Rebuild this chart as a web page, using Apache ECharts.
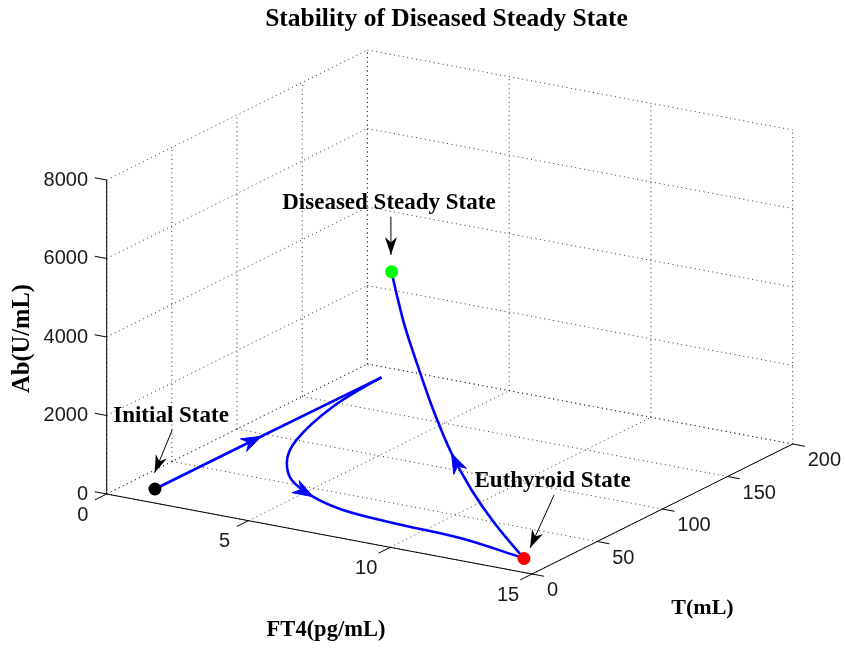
<!DOCTYPE html>
<html>
<head>
<meta charset="utf-8">
<title>Stability of Diseased Steady State</title>
<script src="https://cdn.jsdelivr.net/npm/echarts@6/dist/echarts.min.js"></script>
<style>
  html, body { margin: 0; padding: 0; background: #fff; }
  #chart { width: 845px; height: 656px; }
</style>
</head>
<body>
<div id="chart"></div>
<script>
// axis ticks
const ft4Ticks = [0, 5, 10, 15];
const tTicks = [0, 50, 100, 150, 200];
const abTicks = [0, 2000, 4000, 6000, 8000];

// trajectory (FT4, T, Ab)
const trajFT4 = [0.98, 1.0, 1.05, 1.31, 2.09, 3.02, 4.02, 5.42, 6.87, 8.82, 11.31, 13.82, 14.0, 12.82, 11.87, 11.02, 10.24, 9.56, 8.96, 8.49, 8.21];
const trajT   = [15.7, 97, 188, 145, 100, 72.5, 54.5, 40.3, 31.8, 27.8, 25.1, 16.5, 15.6, 18.7, 21.7, 24.8, 27.8, 30.9, 33.9, 37.0, 40];
const trajAb  = [0, 0, 0, 0, 0, 0, 0, 0, 0, 0, 0, 0, 0, 686, 1355, 2124, 3071, 4031, 4919, 5738, 6117];
// points of the trajectory that carry a direction arrow
const arrowIdx = [1, 7, 15];

// marked states
const stateNames = ['Initial State', 'Euthyroid State', 'Diseased Steady State'];
const stateFT4 = [0.98, 14.0, 8.21];
const stateT   = [15.7, 15.6, 40];
const stateAb  = [0, 0, 6117];

// ---- 3d box -> screen (orthographic view) ----
const ft4Max = 15, tMax = 200, abMax = 8000;
const O = [106.7, 494];       // FT4=0,T=0,Ab=0
const ft4Vec = [425.3, 80];   // along FT4 0..15
const tVec = [260.7, -130];   // along T 0..200
const abVec = -314;           // along Ab 0..8000
function proj(f, t, a) {
  return [
    O[0] + f / ft4Max * ft4Vec[0] + t / tMax * tVec[0],
    O[1] + f / ft4Max * ft4Vec[1] + t / tMax * tVec[1] + a / abMax * abVec
  ];
}
function seg(p, q) { return [p[0], p[1], q[0], q[1]]; }

// dotted grid on the three back planes
const gridSegs = [];
ft4Ticks.forEach(f => {
  gridSegs.push(seg(proj(f, 0, 0), proj(f, tMax, 0)));
  gridSegs.push(seg(proj(f, tMax, 0), proj(f, tMax, abMax)));
});
tTicks.forEach(t => {
  gridSegs.push(seg(proj(0, t, 0), proj(ft4Max, t, 0)));
  gridSegs.push(seg(proj(0, t, 0), proj(0, t, abMax)));
});
abTicks.forEach(a => {
  gridSegs.push(seg(proj(0, 0, a), proj(0, tMax, a)));
  gridSegs.push(seg(proj(0, tMax, a), proj(ft4Max, tMax, a)));
});

// solid axes + ticks
const axisSegs = [
  seg(proj(0, 0, 0), proj(0, 0, abMax)),
  seg(proj(0, 0, 0), proj(ft4Max, 0, 0)),
  seg(proj(ft4Max, 0, 0), proj(ft4Max, tMax, 0))
];
abTicks.forEach(a => axisSegs.push(seg(proj(0, 0, a), proj(-0.42, 0, a))));
ft4Ticks.forEach(f => axisSegs.push(seg(proj(f, 0, 0), proj(f, -9, 0))));
tTicks.forEach(t => axisSegs.push(seg(proj(ft4Max, t, 0), proj(ft4Max + 0.43, t, 0))));

// tick labels: [x, y, align(0 right,1 center,2 left)]
const tickItems = [], tickTexts = [];
abTicks.forEach(a => { const p = proj(0, 0, a); tickItems.push([p[0] - 18.7, p[1], 0]); tickTexts.push(String(a)); });
ft4Ticks.forEach(f => { const p = proj(f, 0, 0); tickItems.push([p[0] - 24, p[1] + 21, 1]); tickTexts.push(String(f)); });
tTicks.forEach(t => { const p = proj(ft4Max, t, 0); tickItems.push([p[0] + 15, p[1] + 16.5, 2]); tickTexts.push(String(t)); });

const traj = trajFT4.map((f, i) => proj(f, trajT[i], trajAb[i]));
const leg1 = traj.slice(0, 3);
const leg2 = traj.slice(2, 13);
const leg3 = traj.slice(12);

const arrowData = arrowIdx.map(i => traj[i].concat(traj[i - 1], traj[i + 1]));

const dotColors = ['#000000', '#ff0000', '#00ff00'];
const statePts = stateNames.map((n, i) => proj(stateFT4[i], stateT[i], stateAb[i]));
// annotation layout relative to each dot: text centre, arrow tail, arrow tip
const annoLayout = [
  { text: [16.1, -73.2], tail: [17.3, -59.2], tip: [-0.4, -16.2] },
  { text: [28.6, -77.6], tail: [30.1, -63.6], tip: [6.1, -10.6] },
  { text: [-2.7, -68.7], tail: [-0.7, -55], tip: [-0.7, -16.7] }
];

function headPoints(tip, ang, len, wid) {
  const c = Math.cos(ang), s = Math.sin(ang);
  const local = [[0, 0], [-len, -wid / 2], [-len * 0.7, 0], [-len, wid / 2]];
  return local.map(p => [tip[0] + p[0] * c - p[1] * s, tip[1] + p[0] * s + p[1] * c]);
}

function segRender(color, dash) {
  return function (params, api) {
    const p1 = api.coord([api.value(0), api.value(1)]);
    const p2 = api.coord([api.value(2), api.value(3)]);
    return {
      type: 'line',
      shape: { x1: p1[0], y1: p1[1], x2: p2[0], y2: p2[1] },
      style: { stroke: color, lineWidth: 1, lineDash: dash }
    };
  };
}

const serif = '"Liberation Serif", "Times New Roman", serif';
const sans = '"Liberation Sans", Arial, sans-serif';

const chart = echarts.init(document.getElementById('chart'), null, { renderer: 'canvas' });
chart.setOption({
  animation: false,
  backgroundColor: '#ffffff',
  grid: { left: 0, right: 0, top: 0, bottom: 0 },
  xAxis: { type: 'value', min: 0, max: 845, show: false },
  yAxis: { type: 'value', min: 0, max: 656, inverse: true, show: false },
  graphic: [
    { type: 'text', x: 446.5, y: 19, silent: true,
      style: { text: 'Stability of Diseased Steady State', font: 'bold 25.5px ' + serif, fill: '#000', align: 'center', verticalAlign: 'middle' } },
    { type: 'text', x: 326, y: 630, silent: true,
      style: { text: 'FT4(pg/mL)', font: 'bold 22.5px ' + serif, fill: '#000', align: 'center', verticalAlign: 'middle' } },
    { type: 'text', x: 702.5, y: 608, silent: true,
      style: { text: 'T(mL)', font: 'bold 22px ' + serif, fill: '#000', align: 'center', verticalAlign: 'middle' } },
    { type: 'text', x: 23, y: 338.5, rotation: Math.PI / 2, silent: true,
      style: { text: 'Ab(U/mL)', font: 'bold 24.5px ' + serif, fill: '#000', align: 'center', verticalAlign: 'middle' } }
  ],
  series: [
    {
      type: 'custom', name: 'grid', silent: true, clip: false,
      data: gridSegs, renderItem: segRender('#333', [1, 3.5]), z: 1
    },
    {
      type: 'custom', name: 'axes', silent: true, clip: false,
      data: axisSegs, renderItem: segRender('#000', null), z: 2
    },
    {
      type: 'custom', name: 'tickLabels', silent: true, clip: false, z: 2,
      data: tickItems,
      renderItem: function (params, api) {
        const p = api.coord([api.value(0), api.value(1)]);
        return {
          type: 'text', x: p[0], y: p[1],
          style: {
            text: tickTexts[params.dataIndex], font: '20px ' + sans, fill: '#1a1a1a',
            align: ['right', 'center', 'left'][api.value(2)], verticalAlign: 'middle'
          }
        };
      }
    },
    {
      type: 'line', name: 'leg1', data: leg1, showSymbol: false, z: 3,
      lineStyle: { color: '#0000ff', width: 2.6 }
    },
    {
      type: 'line', name: 'leg2', data: leg2, showSymbol: false, smooth: 0.35, z: 3,
      lineStyle: { color: '#0000ff', width: 2.6 }
    },
    {
      type: 'line', name: 'leg3', data: leg3, showSymbol: false, smooth: 0.3, z: 3,
      lineStyle: { color: '#0000ff', width: 2.6 }
    },
    {
      type: 'custom', name: 'dirArrows', silent: true, clip: false, z: 4,
      data: arrowData,
      renderItem: function (params, api) {
        const tip = api.coord([api.value(0), api.value(1)]);
        const a = api.coord([api.value(2), api.value(3)]);
        const b = api.coord([api.value(4), api.value(5)]);
        const ang = Math.atan2(b[1] - a[1], b[0] - a[0]);
        return {
          type: 'polygon',
          shape: { points: headPoints(tip, ang, 20, 14) },
          style: { fill: '#0000ff', stroke: '#0000ff', lineWidth: 1 }
        };
      }
    },
    {
      type: 'scatter', name: 'states', z: 5, symbolSize: 13,
      data: statePts.map((p, i) => ({ value: p, itemStyle: { color: dotColors[i], opacity: 1 } }))
    },
    {
      type: 'custom', name: 'annotations', silent: true, clip: false, z: 6,
      data: statePts,
      renderItem: function (params, api) {
        const p = api.coord([api.value(0), api.value(1)]);
        const L = annoLayout[params.dataIndex];
        const tail = [p[0] + L.tail[0], p[1] + L.tail[1]];
        const tip = [p[0] + L.tip[0], p[1] + L.tip[1]];
        const ang = Math.atan2(tip[1] - tail[1], tip[0] - tail[0]);
        return {
          type: 'group',
          children: [
            { type: 'line', shape: { x1: tail[0], y1: tail[1], x2: tip[0], y2: tip[1] },
              style: { stroke: '#000', lineWidth: 1 } },
            { type: 'polygon', shape: { points: headPoints(tip, ang, 18, 12) },
              style: { fill: '#000' } },
            { type: 'text', x: p[0] + L.text[0], y: p[1] + L.text[1],
              style: { text: stateNames[params.dataIndex], font: 'bold 23px ' + serif, fill: '#000',
                       align: 'center', verticalAlign: 'middle' } }
          ]
        };
      }
    }
  ]
});
</script>
</body>
</html>
